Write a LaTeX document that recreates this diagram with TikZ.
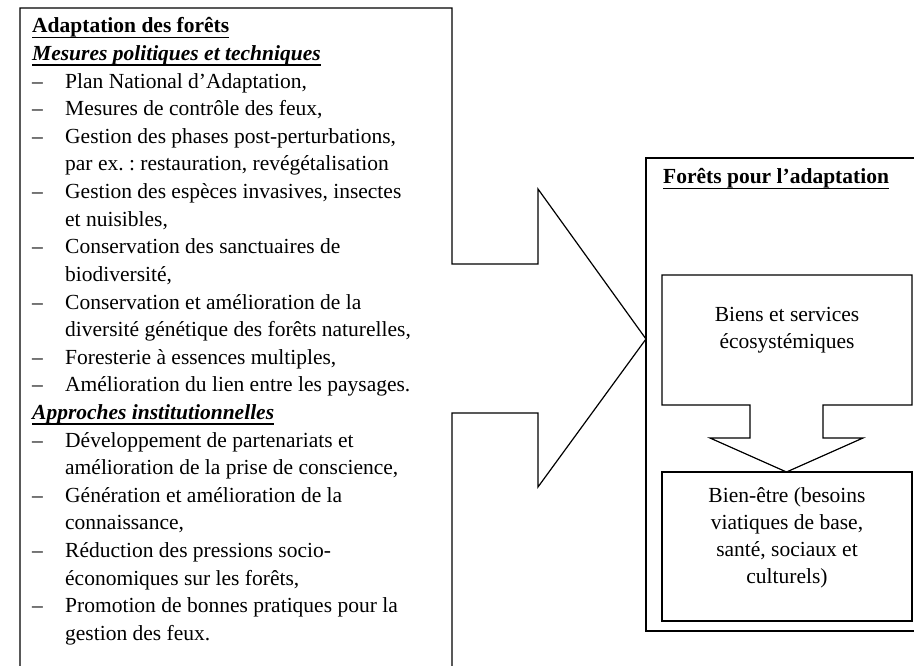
\documentclass[tikz,border=0pt]{standalone}
\usepackage{fontspec}
\setmainfont{Liberation Serif}
\frenchspacing
\newcommand\myul[1]{\setbox0\hbox{#1}\rlap{\rule[-5.5pt]{\wd0}{1.6pt}}\box0}
\begin{document}
\begin{tikzpicture}[x=1pt,y=-1pt,
  outline/.style={draw=black, line width=1.2pt, line join=miter},
  txt/.style={anchor=base west, inner sep=0pt, font=\fontsize{21.5}{27.6}\selectfont},
  ctxt/.style={anchor=base, inner sep=0pt, font=\fontsize{21.5}{27}\selectfont}]
\useasboundingbox (0,0) rectangle (914,666);
\clip (0,0) rectangle (914,666);
\fill[white] (0,0) rectangle (914,666);
% left box with arrow
\draw[outline] (20,8) -- (452,8) -- (452,264) -- (538,264) -- (538,189) -- (646,339)
  -- (538,487) -- (538,413) -- (452,413) -- (452,700) -- (20,700) -- cycle;
% right outer box
\draw[outline] (646,158) rectangle (930,631);
% inner box 1 with down arrow
\draw[outline] (662,275) -- (912,275) -- (912,405) -- (823,405) -- (823,438) -- (863,438)
  -- (786.5,472) -- (710,438) -- (750,438) -- (750,405) -- (662,405) -- cycle;
% inner box 2
\draw[outline] (662,472) rectangle (912,621);

% left texts
\node[txt] (h0) at (32,33) {\myul{\bfseries Adaptation des forêts}};
\node[txt] (h1) at (32,60.6) {\myul{\bfseries\itshape Mesures politiques et techniques}};
\node[txt] (d2) at (32,88.2) {–};
\node[txt] (t2) at (65,88.2) {Plan National d’Adaptation,};
\node[txt] (d3) at (32,115.8) {–};
\node[txt] (t3) at (65,115.8) {Mesures de contrôle des feux,};
\node[txt] (d4) at (32,143.4) {–};
\node[txt] (t4) at (65,143.4) {Gestion des phases post-perturbations,};
\node[txt] (t5) at (65,171) {par ex. : restauration, revégétalisation};
\node[txt] (d6) at (32,198.6) {–};
\node[txt] (t6) at (65,198.6) {Gestion des espèces invasives, insectes};
\node[txt] (t7) at (65,226.2) {et nuisibles,};
\node[txt] (d8) at (32,253.8) {–};
\node[txt] (t8) at (65,253.8) {Conservation des sanctuaires de};
\node[txt] (t9) at (65,281.4) {biodiversité,};
\node[txt] (d10) at (32,309) {–};
\node[txt] (t10) at (65,309) {Conservation et amélioration de la};
\node[txt] (t11) at (65,336.6) {diversité génétique des forêts naturelles,};
\node[txt] (d12) at (32,364.2) {–};
\node[txt] (t12) at (65,364.2) {Foresterie à essences multiples,};
\node[txt] (d13) at (32,391.8) {–};
\node[txt] (t13) at (65,391.8) {Amélioration du lien entre les paysages.};
\node[txt] (h14) at (32,419.4) {\myul{\bfseries\itshape Approches institutionnelles}};
\node[txt] (d15) at (32,447) {–};
\node[txt] (t15) at (65,447) {Développement de partenariats et};
\node[txt] (t16) at (65,474.6) {amélioration de la prise de conscience,};
\node[txt] (d17) at (32,502.2) {–};
\node[txt] (t17) at (65,502.2) {Génération et amélioration de la};
\node[txt] (t18) at (65,529.8) {connaissance,};
\node[txt] (d19) at (32,557.4) {–};
\node[txt] (t19) at (65,557.4) {Réduction des pressions socio-};
\node[txt] (t20) at (65,585) {économiques sur les forêts,};
\node[txt] (d21) at (32,612.6) {–};
\node[txt] (t21) at (65,612.6) {Promotion de bonnes pratiques pour la};
\node[txt] (t22) at (65,640.2) {gestion des feux.};

% right texts
\node[txt] (rh) at (663,184) {\myul{\bfseries Forêts pour l’adaptation}};
\node[ctxt] (b1a) at (787,321) {Biens et services};
\node[ctxt] (b1b) at (787,348.6) {écosystémiques};
\node[ctxt] (b2a) at (787,502) {Bien-être (besoins};
\node[ctxt] (b2b) at (787,529) {viatiques de base,};
\node[ctxt] (b2c) at (787,556) {santé, sociaux et};
\node[ctxt] (b2d) at (787,583) {culturels)};
\end{tikzpicture}
\end{document}
